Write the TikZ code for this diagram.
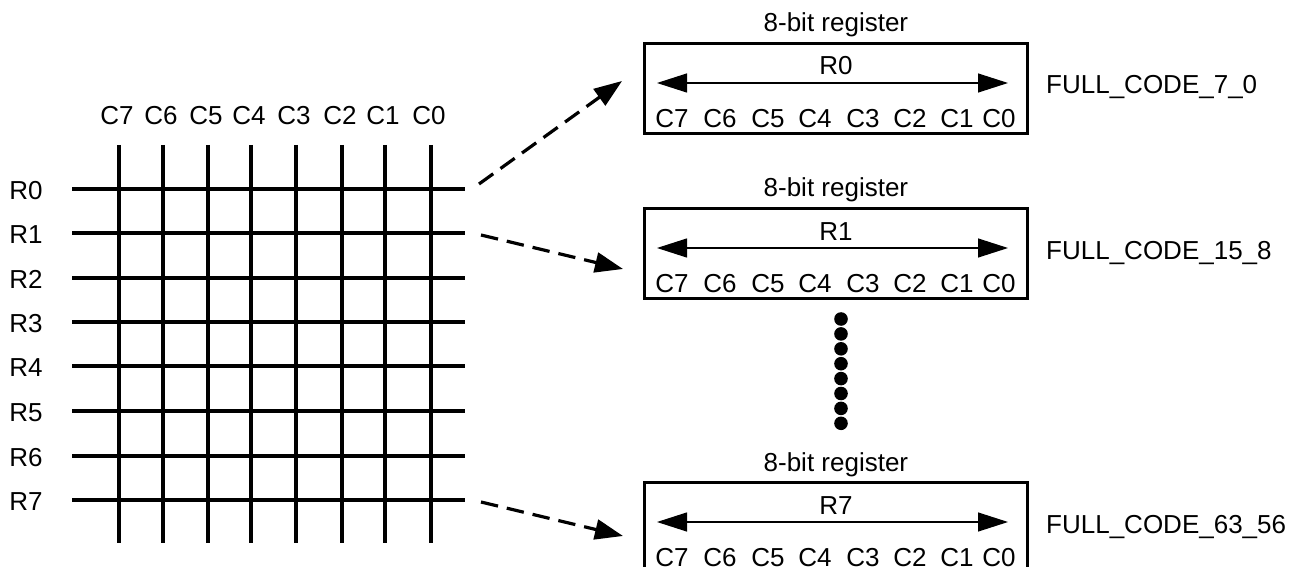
\documentclass[tikz,border=0pt]{standalone}
\usepackage{fontspec}
\setmainfont{Liberation Sans}
\usetikzlibrary{arrows.meta,calc}

\begin{document}
\begin{tikzpicture}[
    x=0.5pt,
    y=-0.5pt,
    every node/.style={font=\fontsize{13}{15}\selectfont,inner sep=0pt},
    wire/.style={line width=2.4pt},
    regbox/.style={draw,line width=1.4pt,minimum width=191.5pt,minimum height=45pt,anchor=north west},
    bitspan/.style={line width=0.6pt,{Triangle[length=15pt,width=9.5pt]}-{Triangle[length=15pt,width=9.5pt]}},
    link/.style={line width=1.6pt,dash pattern=on 8.75pt off 4.5pt,-{Triangle[length=14pt,width=10pt]}},
    dot/.style={circle,fill=black,inner sep=0pt,minimum size=6.8pt}
]
  \useasboundingbox (0,0) rectangle (1291,567);
  \clip (0,0) rectangle (1291,567);

  % key matrix
  \foreach \c/\x in {7/119,6/163,5/208,4/251,3/296,2/342,1/385,0/431} {
    \draw[wire] (\x,145) -- (\x,543);
    \node[anchor=base] (col\c) at (\x-2,125) {C\c};
  }
  \foreach \r/\y in {0/189,1/233,2/278,3/322,4/366,5/411,6/456,7/500} {
    \draw[wire] (72,\y) -- (465,\y);
    \node[anchor=base west] (row\r) at (9,\y+10) {R\r};
  }

  % registers
  \foreach \r/\y/\code in {0/42/7\_0,1/207/15\_8,7/481/63\_56} {
    \node[regbox] (reg\r) at (643,\y) {};
    \node[anchor=base] (title\r) at ($(reg\r.north)+(0,-10)$) {8-bit register};
    \node[anchor=base] (name\r) at ($(reg\r.north)+(0,33)$) {R\r};
    \draw[bitspan] ($(reg\r.north west)+(14,41)$) -- ($(reg\r.north west)+(365,41)$);
    \foreach \c/\dx in {7/29,6/77,5/125,4/172,3/220,2/267,1/314,0/356}
      \node[anchor=base] (bit\r\c) at ($(reg\r.south west)+(\dx,-7)$) {C\c};
    \node[anchor=base west] (code\r) at ($(reg\r.north east)+(17,52)$) {FULL\_CODE\_\code};
  }

  \foreach \k in {0,...,7}
    \node[dot] (dot\k) at (841,319+14.9*\k) {};

  \coordinate (from0) at (479,184);
  \coordinate (to0) at (622,81);
  \coordinate (from1) at (481,235);
  \coordinate (to1) at (623,269);
  \coordinate (from7) at (481,502);
  \coordinate (to7) at (623,536);
  \draw[link] (from0) -- (to0);
  \draw[link] (from1) -- (to1);
  \draw[link] (from7) -- (to7);
\end{tikzpicture}
\end{document}
